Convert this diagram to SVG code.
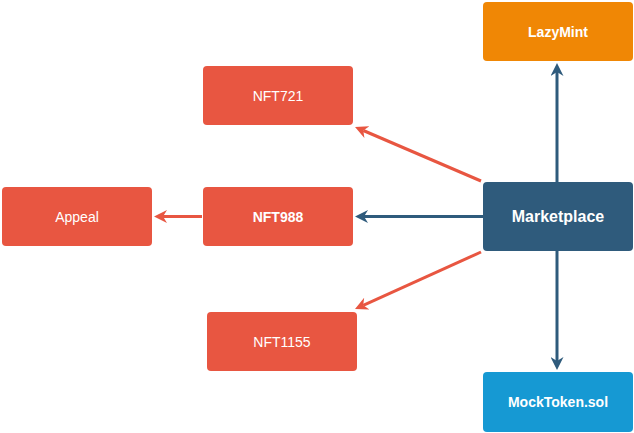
<svg xmlns="http://www.w3.org/2000/svg" width="634" height="433" viewBox="0 0 634 433">
<style>
text{font-family:"Liberation Sans",Arial,sans-serif;font-size:14px;fill:#fff;text-anchor:middle;dominant-baseline:central}
.b{font-weight:bold}
.red{fill:#E85641}
.c{stroke-width:3;fill:none}
.cr{stroke:#E85641}
.cb{stroke:#2F5B7C}
</style>
<defs>
<marker id="ab" viewBox="0 0 13 13" refX="4" refY="6.5" markerWidth="13" markerHeight="13" markerUnits="userSpaceOnUse" orient="auto"><path d="M0,0 L13,6.5 L0,13 L4,6.5 z" fill="#2F5B7C"/></marker>
<marker id="ar" viewBox="0 0 13 13" refX="4" refY="6.5" markerWidth="13" markerHeight="13" markerUnits="userSpaceOnUse" orient="auto"><path d="M0,0 L13,6.5 L0,13 L4,6.5 z" fill="#E85641"/></marker>
</defs>
<g id="connectors">
<line class="c cb" x1="557" y1="182" x2="557" y2="72" marker-end="url(#ab)"/>
<line class="c cb" x1="557" y1="251" x2="557" y2="361" marker-end="url(#ab)"/>
<line class="c cb" x1="483" y1="216.5" x2="364" y2="216.5" marker-end="url(#ab)"/>
<line class="c cr" x1="202" y1="216.5" x2="163" y2="216.5" marker-end="url(#ar)"/>
<line class="c cr" x1="481" y1="181" x2="363.3" y2="130.5" marker-end="url(#ar)"/>
<line class="c cr" x1="481" y1="252" x2="363.2" y2="305.3" marker-end="url(#ar)"/>
</g>
<g id="LazyMint"><rect x="483" y="2" width="150" height="59" rx="4" fill="#F08705"/><text class="b" x="558" y="32">LazyMint</text></g>
<g id="NFT721"><rect class="red" x="203" y="66" width="150" height="59" rx="4"/><text x="278" y="96">NFT721</text></g>
<g id="Appeal"><rect class="red" x="2" y="187" width="150" height="59" rx="4"/><text x="77" y="217">Appeal</text></g>
<g id="NFT988"><rect class="red" x="203" y="187" width="150" height="59" rx="4"/><text class="b" x="278" y="217">NFT988</text></g>
<g id="Marketplace"><rect x="483" y="182" width="150" height="69" rx="4" fill="#2F5B7C"/><text class="b" x="558" y="216.5" style="font-size:16px">Marketplace</text></g>
<g id="NFT1155"><rect class="red" x="207" y="312" width="150" height="59" rx="4"/><text x="282" y="342">NFT1155</text></g>
<g id="MockToken"><rect x="483" y="372" width="150" height="60" rx="4" fill="#1699D3"/><text class="b" x="558" y="402">MockToken.sol</text></g>
</svg>
